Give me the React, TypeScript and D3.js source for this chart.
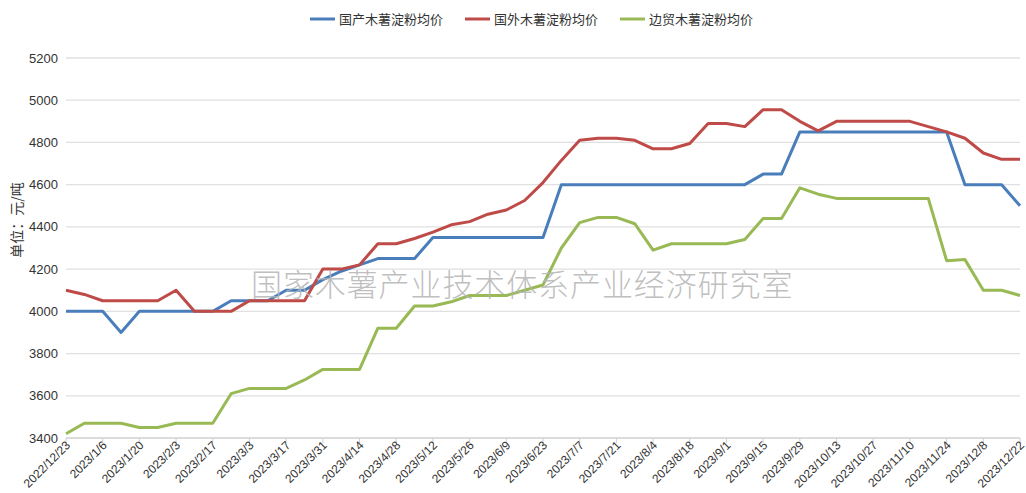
import React from 'react'
import * as d3 from 'd3'

const dates = [
  '2022/12/23', '2022/12/30', '2023/1/6', '2023/1/13', '2023/1/20', '2023/1/27', '2023/2/3', '2023/2/10',
  '2023/2/17', '2023/2/24', '2023/3/3', '2023/3/10', '2023/3/17', '2023/3/24', '2023/3/31', '2023/4/7',
  '2023/4/14', '2023/4/21', '2023/4/28', '2023/5/5', '2023/5/12', '2023/5/19', '2023/5/26', '2023/6/2',
  '2023/6/9', '2023/6/16', '2023/6/23', '2023/6/30', '2023/7/7', '2023/7/14', '2023/7/21', '2023/7/28',
  '2023/8/4', '2023/8/11', '2023/8/18', '2023/8/25', '2023/9/1', '2023/9/8', '2023/9/15', '2023/9/22',
  '2023/9/29', '2023/10/6', '2023/10/13', '2023/10/20', '2023/10/27', '2023/11/3', '2023/11/10', '2023/11/17',
  '2023/11/24', '2023/12/1', '2023/12/8', '2023/12/15', '2023/12/22',
]

// 国产木薯淀粉均价
const domestic = [
  4000, 4000, 4000, 3900, 4000, 4000, 4000, 4000, 4000, 4050, 4050, 4050, 4100, 4100, 4150, 4190,
  4220, 4250, 4250, 4250, 4350, 4350, 4350, 4350, 4350, 4350, 4350, 4600, 4600, 4600, 4600, 4600,
  4600, 4600, 4600, 4600, 4600, 4600, 4650, 4650, 4850, 4850, 4850, 4850, 4850, 4850, 4850, 4850,
  4850, 4600, 4600, 4600, 4500,
]

// 国外木薯淀粉均价
const foreign = [
  4100, 4080, 4050, 4050, 4050, 4050, 4100, 4000, 4000, 4000, 4050, 4050, 4050, 4050, 4200, 4200,
  4220, 4320, 4320, 4345, 4375, 4410, 4425, 4460, 4480, 4525, 4610, 4715, 4810, 4820, 4820, 4810,
  4770, 4770, 4795, 4890, 4890, 4875, 4955, 4955, 4900, 4855, 4900, 4900, 4900, 4900, 4900, 4875,
  4850, 4820, 4750, 4720, 4720,
]

// 边贸木薯淀粉均价
const border = [
  3420, 3470, 3470, 3470, 3450, 3450, 3470, 3470, 3470, 3610, 3635, 3635, 3635, 3675, 3725, 3725,
  3725, 3920, 3920, 4025, 4025, 4045, 4075, 4075, 4075, 4100, 4125, 4300, 4420, 4445, 4445, 4415,
  4290, 4320, 4320, 4320, 4320, 4340, 4440, 4440, 4585, 4555, 4535, 4535, 4535, 4535, 4535, 4535,
  4240, 4245, 4100, 4100, 4075,
]

const yTicks = [3400, 3600, 3800, 4000, 4200, 4400, 4600, 4800, 5000, 5200]

const series = [
  { name: '国产木薯淀粉均价', values: domestic, color: '#4a7ebb' },
  { name: '国外木薯淀粉均价', values: foreign, color: '#be4b48' },
  { name: '边贸木薯淀粉均价', values: border, color: '#98b954' },
]

const W = 1026
const H = 493
const left = 66
const right = 1020
const top = 58
const bottom = 438

const App = () => {
  const x = d3.scalePoint<string>().domain(dates).range([left, right])
  const y = d3.scaleLinear().domain([3400, 5200]).range([bottom, top])
  const line = d3
    .line<number>()
    .x((_, i) => x(dates[i]) as number)
    .y((d) => y(d))

  const labelDates = dates.filter((_, i) => i % 2 === 0)
  const legendX = [310, 465, 620]

  return (
    <svg width={W} height={H} style={{ position: 'absolute', left: 0, top: 0 }}>
      <rect width={W} height={H} fill="#fff" />
      {yTicks.map((t) => (
        <g key={t}>
          <line x1={left} x2={right} y1={y(t)} y2={y(t)} stroke={t === 3400 ? '#d0d0d0' : '#e0e0e0'} strokeWidth={1.3} />
          <text
            x={58}
            y={y(t)}
            dy="0.35em"
            textAnchor="end"
            fontFamily="Liberation Sans, Arial, sans-serif"
            fontSize={13}
            fill="#333"
          >
            {t}
          </text>
        </g>
      ))}
      {labelDates.map((d) => (
        <g key={d}>
          <line x1={x(d)} x2={x(d)} y1={bottom} y2={bottom + 5} stroke="#d0d0d0" />
          <text
            transform={`translate(${(x(d) as number) + 5},${bottom + 8}) rotate(-45)`}
            textAnchor="end"
            fontFamily="Liberation Sans, Arial, sans-serif"
            fontSize={12}
            fill="#333"
          >
            {d}
          </text>
        </g>
      ))}
      <text
        transform="translate(22,220) rotate(-90)"
        textAnchor="middle"
        fontFamily="Noto Sans CJK SC, sans-serif"
        fontSize={14}
        fill="#333"
      >
        单位：元/吨
      </text>
      {series.map((s) => (
        <path
          key={s.name}
          d={line(s.values) || ''}
          fill="none"
          stroke={s.color}
          strokeWidth={3}
          strokeLinejoin="round"
        />
      ))}
      <text
        x={251}
        y={296}
        fontFamily="Noto Sans CJK SC, sans-serif"
        fontWeight={300}
        fontSize={31}
        letterSpacing={0.9}
        fill="#b4b4b4"
        fillOpacity={0.85}
      >
        国家木薯产业技术体系产业经济研究室
      </text>
      {series.map((s, i) => (
        <g key={s.name} transform={`translate(${legendX[i]},19)`}>
          <line x1={0} x2={25} y1={0} y2={0} stroke={s.color} strokeWidth={3} />
          <text x={29} dy="0.35em" fontFamily="Noto Sans CJK SC, sans-serif" fontSize={13} fill="#333">
            {s.name}
          </text>
        </g>
      ))}
    </svg>
  )
}

export default App
